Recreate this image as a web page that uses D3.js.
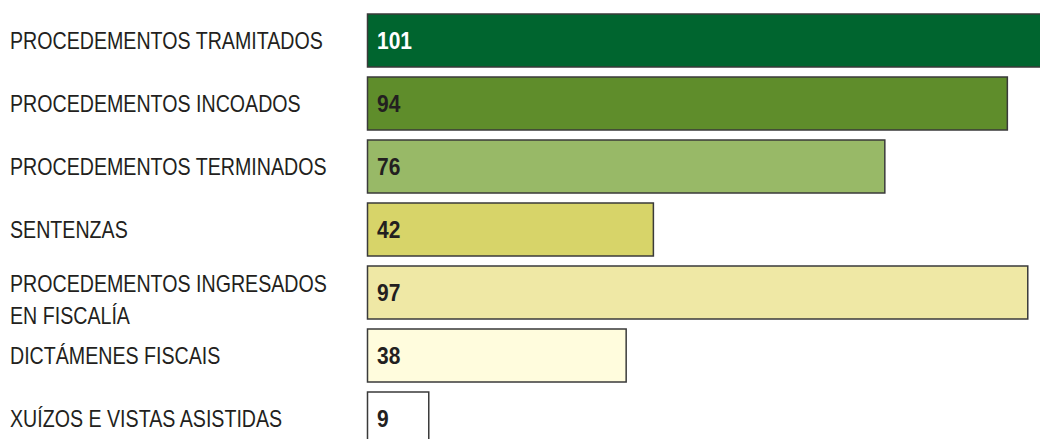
<!DOCTYPE html>
<html><head><meta charset="utf-8">
<script src="https://cdn.jsdelivr.net/npm/d3@7"></script>
<style>
html,body{margin:0;padding:0;background:#fff;overflow:hidden}
svg{display:block}
text{font-family:"Liberation Sans",Arial,sans-serif}
</style></head><body>
<svg id="c" width="1040" height="439"></svg>
<script>
const categories = [
  ["PROCEDEMENTOS TRAMITADOS"],
  ["PROCEDEMENTOS INCOADOS"],
  ["PROCEDEMENTOS TERMINADOS"],
  ["SENTENZAS"],
  ["PROCEDEMENTOS INGRESADOS","EN FISCALÍA"],
  ["DICTÁMENES FISCAIS"],
  ["XUÍZOS E VISTAS ASISTIDAS"]
];
const values = [101, 94, 76, 42, 97, 38, 9];
const colors = ["#00652f","#5f8d2b","#98b967","#d7d469","#efe8a5","#fffcdd","#ffffff"];
const valueColors = ["#ffffff","#231f20","#231f20","#231f20","#231f20","#231f20","#231f20"];

const svg = d3.select("#c");
const x = d3.scaleLinear().domain([0, 101]).range([367.5, 1055]);
const y = d3.scaleBand().domain(d3.range(values.length)).range([14, 14 + 63*6 + 53]).paddingInner(10/63).paddingOuter(0).align(0);

const rows = svg.selectAll("g.row").data(values).join("g").attr("class","row");

rows.append("rect")
  .attr("x", x(0))
  .attr("y", (d,i) => y(i))
  .attr("width", d => x(d) - x(0))
  .attr("height", y.bandwidth())
  .attr("fill", (d,i) => colors[i])
  .attr("stroke", "#3a3a3a")
  .attr("stroke-width", 1.5);

const fs = 23.5;
// value labels, horizontally condensed
const vals = rows.append("text")
  .attr("fill", (d,i) => valueColors[i])
  .attr("font-size", fs)
  .attr("font-weight", "bold")
  .text(d => d);
const vsx = 35 / vals.filter((d,i)=>i===0).node().getComputedTextLength();
vals.attr("transform", (d,i) => `translate(${x(0)+9.5},${y(i) + y.bandwidth()/2 + 8.5}) scale(${vsx},1)`);

// category labels, horizontally condensed
const labs = [];
rows.each(function(d,i){
  const lines = categories[i];
  const n = lines.length;
  const cy = y(i) + y.bandwidth()/2;
  d3.select(this).selectAll("text.lab").data(lines).join("text")
    .attr("class","lab")
    .attr("data-y", (l,j) => cy + 8.5 + j*32 - (n-1)*9)
    .attr("fill", "#231f20")
    .attr("font-size", fs)
    .text(l => l)
    .each(function(){ labs.push(this); });
});
const lsx = 313 / labs[0].getComputedTextLength();
d3.selectAll(labs).attr("transform", function(){ return `translate(10,${this.getAttribute("data-y")}) scale(${lsx},1)`; });
</script>
</body></html>
